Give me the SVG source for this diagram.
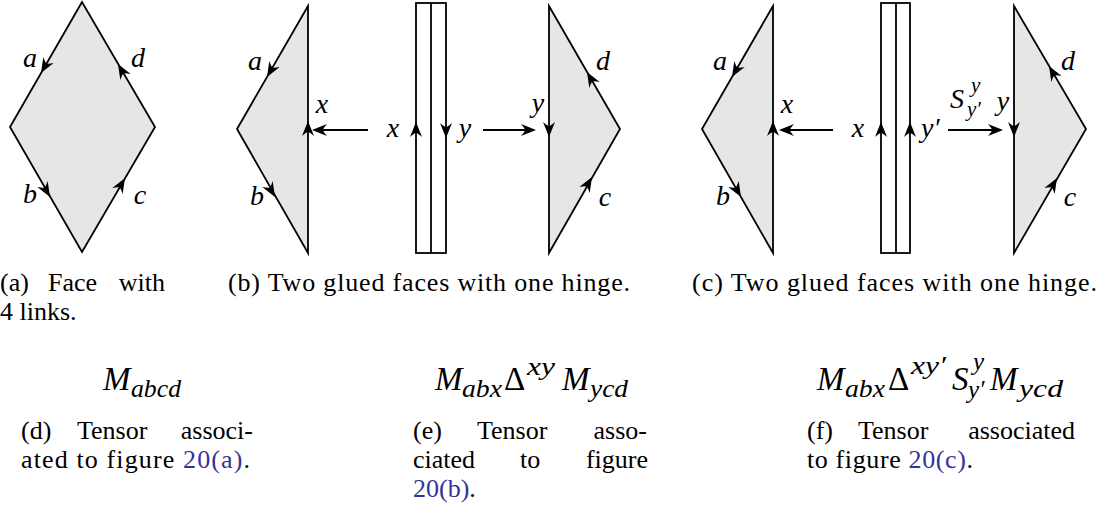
<svg xmlns="http://www.w3.org/2000/svg" xmlns:xlink="http://www.w3.org/1999/xlink" width="1099" height="506" viewBox="0 0 1099 506">
<defs>
<style>
.face{fill:#e6e6e6;stroke:#000;stroke-width:1.8;stroke-linejoin:miter}
.edge{fill:none;stroke:#000;stroke-width:1.8}
.hinge{fill:#fff;stroke:#000;stroke-width:1.8}
.m,.ms,.big,.up,.cap{font-family:"Liberation Serif","Times New Roman",serif;fill:#000}
.m{font-style:italic;font-size:28px}
.ms{font-style:italic;font-size:25px}
.big{font-style:italic;font-size:33px}
.up{font-size:33px}
.cap{font-size:26px}
.lnk{fill:#33339a}
.c{text-anchor:middle}
.e{text-anchor:end}
</style>
<path id="ah" d="M0,0 L-15,-6 Q-11,-1.5 -11,0 Q-11,1.5 -15,6 Z" fill="#000"/>
</defs>

<!-- (a) single face -->
<g id="faceA">
<polygon class="face" points="82,2 10,127 82,252 155,127"/>
<use xlink:href="#ah" transform="translate(41,73) rotate(120)"/>
<use xlink:href="#ah" transform="translate(118,64) rotate(-120)"/>
<use xlink:href="#ah" transform="translate(50,197) rotate(60)"/>
<use xlink:href="#ah" transform="translate(125,178) rotate(-60)"/>
<text class="m c" x="30" y="67">a</text>
<text class="m c" x="138" y="67">d</text>
<text class="m c" x="30" y="203">b</text>
<text class="m c" x="140" y="204">c</text>
</g>

<!-- (b) -->
<g id="faceB-left">
<polygon class="face" points="308,6 237,129 308,253"/>
<use xlink:href="#ah" transform="translate(267,77) rotate(120)"/>
<use xlink:href="#ah" transform="translate(275,197) rotate(60)"/>
<use xlink:href="#ah" transform="translate(308,121) rotate(-90)"/>
<text class="m c" x="255" y="70">a</text>
<text class="m c" x="257" y="205">b</text>
<text class="m c" x="322" y="113">x</text>
</g>
<g id="hingeB">
<rect class="hinge" x="416" y="3" width="30" height="250"/>
<line class="edge" x1="431" y1="3" x2="431" y2="253"/>
<use xlink:href="#ah" transform="translate(416,122) rotate(-90)"/>
<use xlink:href="#ah" transform="translate(446,138) rotate(90)"/>
<text class="m c" x="393" y="137">x</text>
<text class="m c" x="465" y="137">y</text>
</g>
<g id="faceB-right">
<polygon class="face" points="549,6 620,129 549,253"/>
<use xlink:href="#ah" transform="translate(549,137) rotate(90)"/>
<use xlink:href="#ah" transform="translate(587,72) rotate(-120)"/>
<use xlink:href="#ah" transform="translate(592,177) rotate(-60)"/>
<text class="m c" x="538" y="112">y</text>
<text class="m c" x="603" y="70">d</text>
<text class="m c" x="605" y="206">c</text>
</g>

<!-- (c) -->
<g id="faceC-left">
<polygon class="face" points="773,6 702,129 773,253"/>
<use xlink:href="#ah" transform="translate(732,77) rotate(120)"/>
<use xlink:href="#ah" transform="translate(741,197) rotate(60)"/>
<use xlink:href="#ah" transform="translate(773,121) rotate(-90)"/>
<text class="m c" x="720" y="70">a</text>
<text class="m c" x="723" y="205">b</text>
<text class="m c" x="787" y="113">x</text>
</g>
<g id="hingeC">
<rect class="hinge" x="881" y="3" width="29" height="250"/>
<line class="edge" x1="896" y1="3" x2="896" y2="253"/>
<use xlink:href="#ah" transform="translate(881,122) rotate(-90)"/>
<use xlink:href="#ah" transform="translate(910,122) rotate(-90)"/>
<text class="m c" x="858" y="137">x</text>
<text class="m" x="921" y="137">y′</text>
</g>
<g id="faceC-right">
<polygon class="face" points="1014,6 1086,129 1014,253"/>
<use xlink:href="#ah" transform="translate(1014,137) rotate(90)"/>
<use xlink:href="#ah" transform="translate(1049,66) rotate(-120)"/>
<use xlink:href="#ah" transform="translate(1057,178) rotate(-60)"/>
<text class="m c" x="1003" y="110">y</text>
<text class="m c" x="1068" y="70">d</text>
<text class="m c" x="1070" y="206">c</text>
</g>

<!-- connectors -->
<g id="connectors">
<line class="edge" x1="368" y1="130" x2="318" y2="130"/>
<use xlink:href="#ah" transform="translate(312,130) rotate(180)"/>
<line class="edge" x1="483" y1="130" x2="528" y2="130"/>
<use xlink:href="#ah" transform="translate(536,130)"/>
<line class="edge" x1="833" y1="130" x2="786" y2="130"/>
<use xlink:href="#ah" transform="translate(779,130) rotate(180)"/>
<line class="edge" x1="948" y1="130" x2="995" y2="130"/>
<use xlink:href="#ah" transform="translate(1003,130)"/>
<text class="m" x="950" y="108">S</text>
<text class="ms" x="971" y="92" style="font-size:21px">y</text>
<text class="ms" x="967" y="116" style="font-size:21px">y′</text>
</g>

<!-- captions -->
<g id="captions">
<text class="cap" x="0" y="291">(a)</text>
<text class="cap" x="48" y="291">Face</text>
<text class="cap e" x="165" y="291">with</text>
<text class="cap" x="0" y="320">4 links.</text>
<text class="cap" x="228" y="291" textLength="402" lengthAdjust="spacing">(b) Two glued faces with one hinge.</text>
<text class="cap" x="692" y="291" textLength="405" lengthAdjust="spacing">(c) Two glued faces with one hinge.</text>

<text class="cap" x="21" y="439">(d)</text>
<text class="cap" x="77" y="439">Tensor</text>
<text class="cap e" x="253" y="439">associ-</text>
<text class="cap" x="21" y="468" textLength="229" lengthAdjust="spacing">ated to figure <tspan class="lnk">20(a)</tspan>.</text>

<text class="cap" x="413" y="439">(e)</text>
<text class="cap" x="477" y="439">Tensor</text>
<text class="cap e" x="647" y="439">asso-</text>
<text class="cap" x="413" y="468">ciated</text>
<text class="cap" x="520" y="468">to</text>
<text class="cap e" x="648" y="468">figure</text>
<text class="cap" x="413" y="497"><tspan class="lnk">20(b)</tspan>.</text>

<text class="cap" x="807" y="439">(f)</text>
<text class="cap" x="858" y="439">Tensor</text>
<text class="cap e" x="1075" y="439">associated</text>
<text class="cap" x="807" y="468" textLength="166" lengthAdjust="spacing">to figure <tspan class="lnk">20(c)</tspan>.</text>
</g>

<!-- formulas -->
<g id="formulaD">
<text class="big" x="103" y="390">M</text>
<text class="ms" x="131" y="397" textLength="50" lengthAdjust="spacingAndGlyphs">abcd</text>
</g>
<g id="formulaE">
<text class="big" x="435" y="390">M</text>
<text class="ms" x="462" y="397" textLength="40" lengthAdjust="spacingAndGlyphs">abx</text>
<text class="up" x="504" y="390">Δ</text>
<text class="ms" x="527" y="375" textLength="28" lengthAdjust="spacingAndGlyphs">xy</text>
<text class="big" x="562" y="390">M</text>
<text class="ms" x="590" y="397" textLength="38" lengthAdjust="spacingAndGlyphs">ycd</text>
</g>
<g id="formulaF">
<text class="big" x="817" y="390">M</text>
<text class="ms" x="845" y="397" textLength="40" lengthAdjust="spacingAndGlyphs">abx</text>
<text class="up" x="888" y="390">Δ</text>
<text class="ms" x="911" y="374" textLength="35" lengthAdjust="spacingAndGlyphs">xy′</text>
<text class="big" x="952" y="390">S</text>
<text class="ms" x="973" y="370">y</text>
<text class="ms" x="968" y="398">y′</text>
<text class="big" x="990" y="390">M</text>
<text class="ms" x="1019" y="397" textLength="44" lengthAdjust="spacingAndGlyphs">ycd</text>
</g>
</svg>
